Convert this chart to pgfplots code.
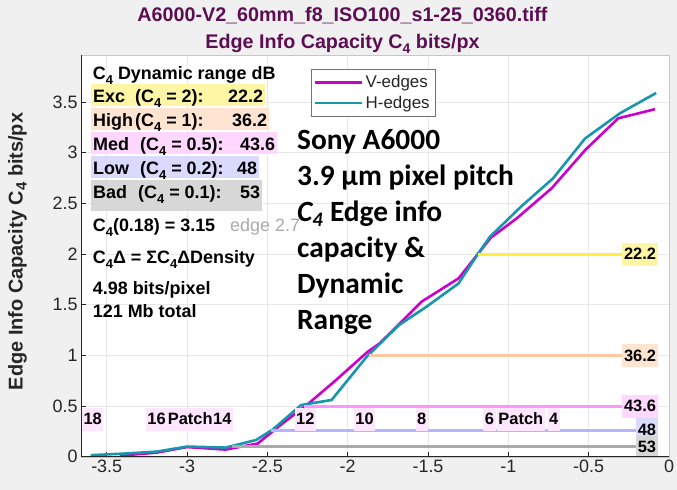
\documentclass[border=0pt]{standalone}
\usepackage{pgfplots}
\pgfplotsset{compat=1.18}
\usepackage{fontspec}
\setmainfont{Liberation Sans}
\newfontfamily\calib{Carlito}
\definecolor{bg}{RGB}{240,240,240}
\definecolor{ttl}{RGB}{92,14,82}
\definecolor{magc}{RGB}{204,0,204}
\definecolor{tealc}{RGB}{23,150,172}
\definecolor{yell}{RGB}{255,238,60}
\definecolor{yelbox}{RGB}{255,246,165}
\definecolor{peachl}{RGB}{255,200,160}
\definecolor{peachbox}{RGB}{255,228,210}
\definecolor{pinkl}{RGB}{255,150,255}
\definecolor{pinkbox}{RGB}{255,215,255}
\definecolor{lavl}{RGB}{180,180,255}
\definecolor{lavbox}{RGB}{218,218,255}
\definecolor{grayl}{RGB}{170,170,170}
\definecolor{graybox}{RGB}{215,215,215}
\definecolor{patchbox}{RGB}{255,230,255}
\definecolor{txt}{RGB}{38,38,38}
\newcommand\fs[1]{\fontsize{#1}{#1}\selectfont}
\newcommand\sub[1]{\raisebox{-5bp}{\fs{13}#1}}
\begin{document}
\begin{tikzpicture}
\fill[bg] (-81bp,-33.3bp) rectangle (596bp,456.7bp);
\useasboundingbox (-81bp,-33.3bp) rectangle (596bp,456.7bp);
\begin{axis}[
  at={(0,0)}, anchor=south west,
  scale only axis, width=588bp, height=401.7bp,
  xmin=-3.66, xmax=0, ymin=0, ymax=3.965,
  axis background/.style={fill=white},
  axis line style={draw=black!22},
  xtick={-3.5,-3,-2.5,-2,-1.5,-1,-0.5,0},
  ytick={0,0.5,1,1.5,2,2.5,3,3.5},
  xticklabels={-3.5,-3,-2.5,-2,-1.5,-1,-0.5,0},
  yticklabels={0,0.5,1,1.5,2,2.5,3,3.5},
  tick label style={font=\fs{18}, text=txt},
  tick pos=left, tick align=inside, major tick length=5bp,
  tick style={draw=txt, line width=0.6bp},
  grid=major, grid style={draw=black!9, line width=0.6bp},
  every axis y label/.style={at={(rel axis cs:-0.1078,0.511)}, rotate=90, anchor=center},
  ylabel={Edge Info Capacity C\raisebox{-4bp}{\fs{15}4} bits/px},
  ylabel style={font=\bfseries\fs{20}, text=txt},
  legend style={at={(0.391,0.9644)}, anchor=north west, draw=black!55, fill=white,
    font=\fs{17}, text=txt, inner xsep=3bp, inner ysep=4bp, row sep=3bp,
    cells={anchor=west}},
  legend image code/.code={\draw[#1] (0bp,0bp) -- (47bp,0bp);},
]
\addplot[magc, line width=2.6bp] coordinates {
(-3.42,0.01) (-3.19,0.04) (-3.00,0.095) (-2.76,0.07) (-2.56,0.13) (-2.42,0.31)
(-2.24,0.53) (-2.07,0.76) (-1.88,1.03) (-1.80,1.12) (-1.54,1.53) (-1.31,1.76)
(-1.19,2.0) (-1.11,2.16) (-0.95,2.35) (-0.73,2.65) (-0.52,3.03) (-0.316,3.34) (-0.087,3.43)};
\addlegendentry{V-edges}
\addplot[tealc, line width=2.6bp] coordinates {
(-3.60,0.015) (-3.40,0.03) (-3.19,0.05) (-3.00,0.10) (-2.76,0.09) (-2.57,0.165)
(-2.465,0.27) (-2.29,0.51) (-2.10,0.56) (-1.88,0.99) (-1.68,1.30) (-1.51,1.48)
(-1.31,1.71) (-1.19,2.0) (-1.115,2.17) (-0.92,2.47) (-0.72,2.75) (-0.523,3.14)
(-0.305,3.39) (-0.08,3.59)};
\addlegendentry{H-edges}
\addplot[yell, line width=3bp, forget plot] coordinates {(-1.19,2) (-0.1,2)};
\addplot[peachl, line width=3bp, forget plot] coordinates {(-1.87,1) (-0.1,1)};
\addplot[pinkl, line width=3bp, forget plot] coordinates {(-2.27,0.5) (-0.1,0.5)};
\addplot[lavl, line width=3bp, forget plot] coordinates {(-2.48,0.26) (-0.1,0.26)};
\addplot[grayl, line width=3bp, forget plot] coordinates {(-2.72,0.1) (-0.1,0.1)};
\tikzset{valbox/.style={anchor=east, font=\bfseries\fs{16.5}, inner xsep=2bp, inner ysep=0bp, minimum height=23bp, text=black},
  pbox/.style={font=\bfseries\fs{16.5}, fill=patchbox, inner xsep=1.5bp, inner ysep=0bp, minimum height=23bp, text=black}}
\node[valbox, fill=yelbox] at (axis cs:-0.067,2) {22.2};
\node[valbox, fill=peachbox] at (axis cs:-0.067,1) {36.2};
\node[valbox, fill=pinkbox] at (axis cs:-0.067,0.5) {43.6};
\node[valbox, fill=lavbox] at (axis cs:-0.067,0.27) {48};
\node[valbox, fill=graybox] at (axis cs:-0.067,0.095) {53};
\node[pbox] at (axis cs:-3.587,0.372) {18};
\node[pbox] at (axis cs:-3.19,0.372) {16};
\node[pbox] at (axis cs:-2.98,0.372) {Patch};
\node[pbox] at (axis cs:-2.78,0.372) {14};
\node[pbox] at (axis cs:-2.264,0.372) {12};
\node[pbox] at (axis cs:-1.895,0.372) {10};
\node[pbox] at (axis cs:-1.54,0.372) {8};
\node[pbox] at (axis cs:-1.117,0.372) {6};
\node[pbox] at (axis cs:-0.922,0.372) {Patch};
\node[pbox] at (axis cs:-0.717,0.372) {4};
\end{axis}
\draw[txt, line width=0.8bp] (0,401.7bp) -- (0,0) -- (588bp,0);
% title
\node[anchor=base, font=\bfseries\fs{19.8}, text=ttl] at (261.5bp,435bp) {A6000-V2\_60mm\_f8\_ISO100\_s1-25\_0360.tiff};
\node[anchor=base, font=\bfseries\fs{19.8}, text=ttl] at (261.5bp,408.4bp) {Edge Info Capacity C\raisebox{-5bp}{\fs{14}4} bits/px};
% left panel
\tikzset{rowbox/.style={anchor=base west, font=\bfseries\fs{18}, inner xsep=2bp, inner ysep=0bp, text height=19bp, text depth=3bp, text=black},
  ptxt/.style={anchor=base west, font=\bfseries\fs{18}, inner sep=0bp, text=black}}
\node[ptxt] at (11.7bp,376.7bp) {C\sub{4} Dynamic range dB};
\node[rowbox, fill=yelbox] at (10bp,353.7bp) {\makebox[42bp][l]{Exc}\makebox[93bp][l]{(C\sub{4} = 2):}22.2};
\node[rowbox, fill=peachbox] at (10bp,329.7bp) {\makebox[42bp][l]{High}\makebox[97bp][l]{(C\sub{4} = 1):}36.2};
\node[rowbox, fill=pinkbox] at (10bp,305.7bp) {\makebox[47bp][l]{Med}\makebox[100bp][l]{(C\sub{4} = 0.5):}43.6};
\node[rowbox, fill=lavbox] at (10bp,281.7bp) {\makebox[47bp][l]{Low}\makebox[97bp][l]{(C\sub{4} = 0.2):}48};
\node[rowbox, fill=graybox, text depth=12bp] at (10bp,257.7bp) {\makebox[45bp][l]{Bad}\makebox[102bp][l]{(C\sub{4} = 0.1):}53};
\node[ptxt] at (11.7bp,225bp) {C\sub{4}(0.18) = 3.15};
\node[anchor=base west, font=\fs{18}, inner sep=0bp, text={rgb,255:red,170;green,170;blue,170}] at (149bp,225bp) {edge 2.7};
\node[ptxt] at (11.7bp,193.4bp) {C\sub{4}Δ = ΣC\sub{4}ΔDensity};
\node[ptxt] at (11.7bp,161.7bp) {4.98 bits/pixel};
\node[ptxt] at (11.7bp,138.7bp) {121 Mb total};
% big annotation
\tikzset{big/.style={anchor=base west, font=\calib\bfseries\fs{29.5}, inner sep=0bp, text=black}}
\node[big] at (216bp,306.7bp) {Sony A6000};
\node[big] at (216bp,270.7bp) {3.9 µm pixel pitch};
\node[big] at (216bp,234.7bp) {{\itshape C\textsubscript{4}} Edge info};
\node[big] at (216bp,198.7bp) {capacity \&};
\node[big] at (216bp,162.7bp) {Dynamic};
\node[big] at (216bp,126.7bp) {Range};
\end{tikzpicture}
\end{document}
